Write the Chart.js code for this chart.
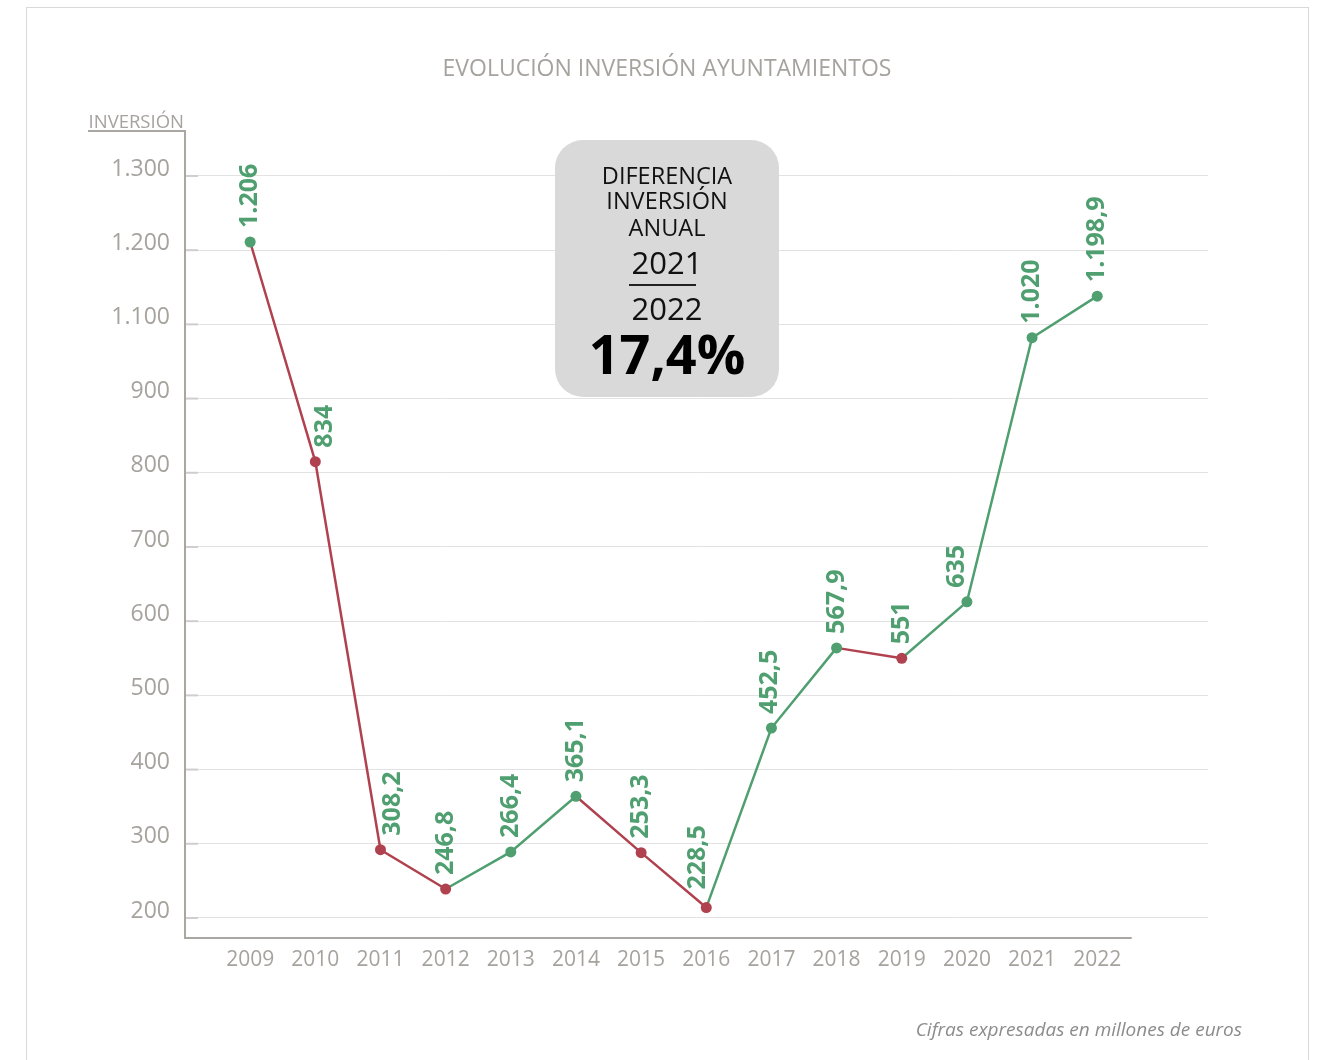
<!DOCTYPE html>
<html lang="es">
<head>
<meta charset="utf-8">
<title>Evolución inversión ayuntamientos</title>
<script src="https://cdn.jsdelivr.net/npm/chart.js@4.4.1/dist/chart.umd.min.js"></script>
<style>
  body { margin: 0; background: #fff; font-family: "Open Sans", sans-serif; }
  #wrap { position: relative; width: 1319px; height: 1060px; overflow: hidden; }
  #frame { position: absolute; left: 26px; top: 7px; width: 1281px; height: 1100px; border: 1px solid #d9d9d9; }
  #grafico { position: absolute; left: 0; top: 0; }
  .txt { position: absolute; white-space: nowrap; }
  #titulo { left: 0; width: 1334px; top: 52px; line-height: 30px; text-align: center; font-size: 23px; color: #a6a29e; }
  #ejeY { right: 1135px; top: 109px; line-height: 24px; font-size: 18.5px; color: #a6a29e; }
  #nota { right: 77px; top: 1016px; line-height: 26px; font-size: 19px; font-style: italic; color: #8c8c8c; }
  #caja { position: absolute; left: 555px; top: 140px; width: 224px; height: 257px; border-radius: 28px; background: #d9d9d9; color: #111; }
  #caja .txt { left: 0; width: 100%; text-align: center; }
  .linea { font-size: 23.5px; line-height: 26px; }
  .anio { font-size: 31px; line-height: 36px; }
  #pct { font-size: 54px; line-height: 60px; font-weight: 700; color: #000; }
  #raya { position: absolute; left: 74px; top: 144px; width: 67px; height: 1.5px; background: #222; }
</style>
</head>
<body>
<div id="wrap">
  <div id="frame"></div>
  <canvas id="grafico" width="1319" height="1060"></canvas>
  <div class="txt" id="titulo">EVOLUCIÓN INVERSIÓN AYUNTAMIENTOS</div>
  <div class="txt" id="ejeY">INVERSIÓN</div>
  <div id="caja">
    <div class="txt linea" style="top:22px">DIFERENCIA</div>
    <div class="txt linea" style="top:47px">INVERSIÓN</div>
    <div class="txt linea" style="top:74px">ANUAL</div>
    <div class="txt anio" style="top:104px">2021</div>
    <div id="raya"></div>
    <div class="txt anio" style="top:150px">2022</div>
    <div class="txt" id="pct" style="top:183px">17,4%</div>
  </div>
  <div class="txt" id="nota">Cifras expresadas en millones de euros</div>
</div>
<script>
const years = [2009, 2010, 2011, 2012, 2013, 2014, 2015, 2016, 2017, 2018, 2019, 2020, 2021, 2022];
// position of each point as read against the chart's gridlines
const inversion = [1111, 815, 292, 239, 289, 364, 288, 214, 456, 564, 550, 626, 982, 1038];
// figures printed above each point
const etiquetas = ["1.206", "834", "308,2", "246,8", "266,4", "365,1", "253,3", "228,5", "452,5", "567,9", "551", "635", "1.020", "1.198,9"];
const yTicks = [200, 300, 400, 500, 600, 700, 800, 900, 1000, 1100, 1200];
const yTickLabels = ["200", "300", "400", "500", "600", "700", "800", "900", "1.100", "1.200", "1.300"];

const VERDE = "#4f9f70";
const ROJO = "#b0424f";
const GRIS = "#a6a29e";

Chart.defaults.font.family = '"Open Sans", sans-serif';

// color of a point: red if it dropped against the previous year
function colorPunto(i) {
    if (i === 0 || inversion[i] >= inversion[i - 1]) return VERDE;
    return ROJO;
}

// axis lines, little tick marks and the underline of the axis title
const ejes = {
    id: "ejes",
    afterDraw(chart) {
        const { ctx, chartArea: a, scales: { x, y } } = chart;
        ctx.save();
        ctx.strokeStyle = "#d0cecc";
        ctx.lineWidth = 2;
        yTicks.forEach(v => {
            const py = y.getPixelForValue(v);
            ctx.beginPath();
            ctx.moveTo(a.left, py);
            ctx.lineTo(a.left + 13, py);
            ctx.stroke();
        });
        ctx.strokeStyle = "#aaa6a2";
        ctx.beginPath();
        ctx.moveTo(a.left - 97, a.top);
        ctx.lineTo(a.left, a.top);
        ctx.lineTo(a.left, a.bottom);
        ctx.lineTo(x.getPixelForValue(2022.53), a.bottom);
        ctx.stroke();
        ctx.restore();
    }
};

// does a segment pass through the label box?
function choca(seg, cx, bottom, top, half) {
    const [p, q] = seg;
    for (let yy = top; yy <= bottom; yy += 2) {
        if (yy < Math.min(p.y, q.y) || yy > Math.max(p.y, q.y)) continue;
        const t = (yy - p.y) / (q.y - p.y);
        const xx = p.x + t * (q.x - p.x);
        if (Math.abs(xx - cx) < half + 2) return true;
    }
    return false;
}

// rotated value labels above the points, nudged off the line
const etiquetasPuntos = {
    id: "etiquetasPuntos",
    afterDatasetsDraw(chart) {
        const ctx = chart.ctx;
        const pts = chart.getDatasetMeta(0).data;
        ctx.save();
        ctx.fillStyle = VERDE;
        ctx.font = 'bold 25px "Open Sans", sans-serif';
        ctx.textAlign = "left";
        ctx.textBaseline = "middle";
        pts.forEach((pt, i) => {
            const largo = ctx.measureText(etiquetas[i]).width;
            const segs = [];
            if (i > 0) segs.push([pts[i - 1], pt]);
            if (i < pts.length - 1) segs.push([pt, pts[i + 1]]);
            let sitio = null;
            for (let gap = 14; gap <= 34 && !sitio; gap += 4) {
                for (let k = 0; k <= 24 && !sitio; k += 2) {
                    for (const d of k === 0 ? [0] : [k, -k]) {
                        const cx = pt.x + d;
                        const bottom = pt.y - gap;
                        if (!segs.some(s => choca(s, cx, bottom, bottom - largo, 11))) {
                            sitio = { cx, bottom };
                            break;
                        }
                    }
                }
            }
            if (!sitio) sitio = { cx: pt.x, bottom: pt.y - 14 };
            ctx.save();
            ctx.translate(sitio.cx, sitio.bottom);
            ctx.rotate(-Math.PI / 2);
            ctx.fillText(etiquetas[i], 0, 0);
            ctx.restore();
        });
        ctx.restore();
    }
};

new Chart(document.getElementById("grafico"), {
    type: "line",
    data: {
        datasets: [{
            data: years.map((yr, i) => ({ x: yr, y: inversion[i] })),
            borderWidth: 2.5,
            tension: 0,
            pointRadius: 5.5,
            pointHoverRadius: 5.5,
            pointBorderWidth: 0,
            pointBackgroundColor: ctx => colorPunto(ctx.dataIndex),
            pointBorderColor: ctx => colorPunto(ctx.dataIndex),
            segment: {
                borderColor: ctx => ctx.p1.parsed.y < ctx.p0.parsed.y ? ROJO : VERDE
            },
            clip: false
        }]
    },
    options: {
        responsive: false,
        animation: false,
        layout: { padding: { top: 131, right: 111, left: 0, bottom: 0 } },
        plugins: {
            legend: { display: false },
            tooltip: { enabled: false }
        },
        scales: {
            x: {
                type: "linear",
                min: 2008,
                max: 2023.7,
                afterBuildTicks: s => { s.ticks = years.map(v => ({ value: v })); },
                afterFit: s => { s.height = 122; },
                grid: { display: false, drawTicks: false },
                border: { display: false },
                ticks: {
                    color: GRIS,
                    font: { size: 21 },
                    padding: 9,
                    autoSkip: false,
                    maxRotation: 0,
                    callback: v => String(v)
                }
            },
            y: {
                min: 173,
                max: 1260.6,
                afterBuildTicks: s => { s.ticks = yTicks.map(v => ({ value: v })); },
                afterFit: s => { s.width = 185; },
                grid: { color: "#e2e2e2", lineWidth: 1, drawTicks: false },
                border: { display: false },
                ticks: {
                    color: GRIS,
                    font: { size: 23 },
                    padding: 15,
                    labelOffset: -7,
                    autoSkip: false,
                    callback: (v, i) => yTickLabels[i]
                }
            }
        }
    },
    plugins: [ejes, etiquetasPuntos]
});
</script>
</body>
</html>
